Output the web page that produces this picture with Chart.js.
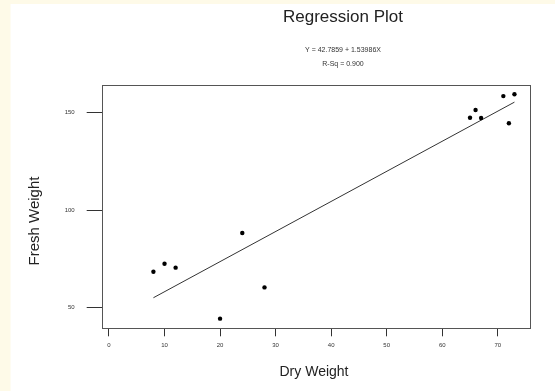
<!DOCTYPE html>
<html>
<head>
<meta charset="utf-8">
<script src="https://cdn.jsdelivr.net/npm/chart.js@4/dist/chart.umd.min.js"></script>
<style>
html,body{margin:0;padding:0;background:#fff;}
canvas{display:block;}
</style>
</head>
<body>
<canvas id="c" width="555" height="391"></canvas>
<script>
const dryWeight = [8, 10, 12, 20, 24, 28, 65, 66, 67, 71, 72, 73];
const freshWeight = [68.4, 72.5, 70.5, 44.4, 88.2, 60.4, 147.2, 151.2, 147.1, 158.3, 144.4, 159.2];
const fitX = [8, 73];
const fitY = [55.1, 155.2];
const xTicks = [0, 10, 20, 30, 40, 50, 60, 70];
const yTicks = [50, 100, 150];
const titleText = "Regression Plot";
const equationText = "Y = 42.7859 + 1.53986X";
const rsqText = "R-Sq = 0.900";
const xTitle = "Dry Weight";
const yTitle = "Fresh Weight";

const FONT = "'Liberation Sans', Arial, sans-serif";

const decor = {
  id: 'decor',
  beforeDraw(chart) {
    const ctx = chart.ctx;
    ctx.save();
    ctx.fillStyle = '#fefae8';
    ctx.fillRect(0, 0, 555, 4);
    ctx.fillRect(0, 0, 10.5, 391);
    ctx.restore();
  },
  afterDraw(chart) {
    const ctx = chart.ctx;
    const a = chart.chartArea;
    ctx.save();
    ctx.strokeStyle = '#555';
    ctx.lineWidth = 1;
    ctx.strokeRect(Math.round(a.left) + 0.5, Math.round(a.top) + 0.5,
                   Math.round(a.right - a.left), Math.round(a.bottom - a.top));
    ctx.fillStyle = '#222';
    ctx.textAlign = 'center';
    ctx.textBaseline = 'middle';
    ctx.font = '17px ' + FONT;
    ctx.fillText(titleText, 343, 17);
    ctx.font = '7px ' + FONT;
    ctx.fillStyle = '#333';
    ctx.fillText(equationText, 343, 50.5);
    ctx.fillText(rsqText, 343, 64.5);
    ctx.fillStyle = '#222';
    ctx.font = '14px ' + FONT;
    ctx.fillText(xTitle, 314, 372);
    ctx.translate(35, 221);
    ctx.rotate(-Math.PI / 2);
    ctx.font = '15px ' + FONT;
    ctx.fillText(yTitle, 0, 0);
    ctx.restore();
  }
};

new Chart(document.getElementById('c'), {
  type: 'scatter',
  data: {
    datasets: [
      {
        label: 'Observed',
        data: dryWeight.map((x, i) => ({x: x, y: freshWeight[i]})),
        backgroundColor: '#000',
        borderColor: '#000',
        pointRadius: 2.2,
        pointBorderWidth: 0,
        showLine: false
      },
      {
        label: 'Fit',
        data: fitX.map((x, i) => ({x: x, y: fitY[i]})),
        showLine: true,
        borderColor: '#333',
        borderWidth: 1,
        pointRadius: 0,
        fill: false
      }
    ]
  },
  options: {
    responsive: false,
    animation: false,
    devicePixelRatio: 1,
    layout: {padding: {top: 85, right: 25, bottom: 0, left: 0}},
    plugins: {legend: {display: false}, tooltip: {enabled: false}, title: {display: false}},
    scales: {
      x: {
        type: 'linear',
        min: -1.31,
        max: 75.8,
        border: {display: false},
        grid: {drawOnChartArea: false, drawTicks: true, tickLength: 8, color: '#333', tickColor: '#333'},
        afterBuildTicks(scale) { scale.ticks = xTicks.map(v => ({value: v})); },
        afterFit(scale) { scale.height = 62.7; },
        ticks: {font: {size: 6, family: FONT}, color: '#333', padding: 5, maxRotation: 0,
                callback: v => String(v)}
      },
      y: {
        type: 'linear',
        min: 39.46,
        max: 163.97,
        border: {display: false},
        grid: {drawOnChartArea: false, drawTicks: true, tickLength: 15, color: '#333', tickColor: '#333'},
        afterBuildTicks(scale) { scale.ticks = yTicks.map(v => ({value: v})); },
        afterFit(scale) { scale.width = 101.7; },
        ticks: {font: {size: 6, family: FONT}, color: '#333', padding: 12,
                callback: v => String(v)}
      }
    }
  },
  plugins: [decor]
});
</script>
</body>
</html>
